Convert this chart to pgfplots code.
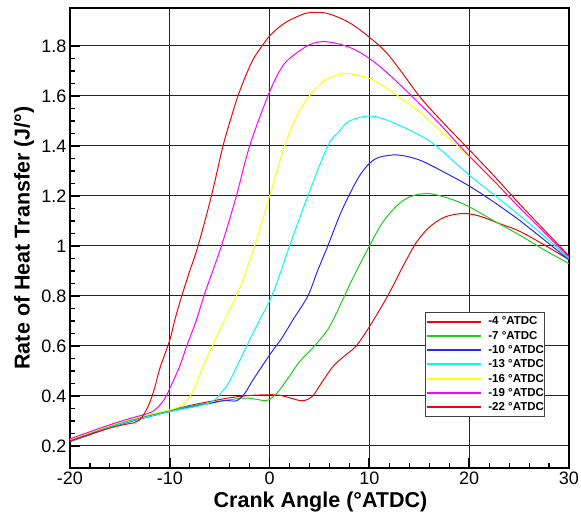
\documentclass[border=0pt]{standalone}
\usepackage{fontspec}
\setmainfont{Liberation Sans}
\usepackage{pgfplots}
\pgfplotsset{compat=1.18}

\definecolor{cRed}{RGB}{230,10,10}
\definecolor{cGreen}{RGB}{30,205,30}
\definecolor{cBlue}{RGB}{40,40,255}
\definecolor{cCyan}{RGB}{0,250,250}
\definecolor{cYellow}{RGB}{255,255,0}
\definecolor{cMagenta}{RGB}{255,0,255}

\begin{document}
\begin{tikzpicture}
\begin{axis}[
  scale only axis,
  width=499pt, height=460pt,
  xmin=-20, xmax=30,
  ymin=0.112, ymax=1.952,
  xtick={-20,-10,...,30},
  ytick={0.2,0.4,...,1.8},
  minor x tick num=4,
  minor y tick num=3,
  xtick pos=bottom, ytick pos=left,
  tick align=inside,
  major tick length=10pt,
  minor tick length=5pt,
  every major tick/.append style={line width=1.8pt, black},
  every minor tick/.append style={line width=1.1pt, black},
  grid=major,
  major grid style={line width=1pt, black!85},
  axis line style={line width=2.6pt, black},
  /pgf/number format/assume math mode=true,
  tick label style={font=\fontsize{18}{18}\selectfont},
  xlabel={Crank Angle (°ATDC)},
  ylabel={Rate of Heat Transfer (J/°)},
  every axis x label/.style={at={(axis description cs:0.502,-0.074)}, anchor=center,
    font=\bfseries\fontsize{21.5}{22}\selectfont},
  every axis y label/.style={at={(axis description cs:-0.092,0.5)}, anchor=center, rotate=90,
    font=\bfseries\fontsize{21.5}{22}\selectfont},
  legend cell align=left,
  legend image code/.code={\draw[#1, line width=2pt] (0pt,0pt) -- (54pt,0pt); \path (60pt,0pt);},
  legend style={
    at={(axis cs:15.6,0.736)}, anchor=north west,
    draw=black!75, line width=1.2pt, fill=white,
    font=\bfseries\fontsize{11.5}{12}\selectfont,
    inner xsep=0pt, inner ysep=2pt,
    row sep=0.3pt,
    nodes={inner sep=1pt, text height=9.3pt, text depth=2.7pt},
  },
  every axis plot/.append style={line width=1pt, smooth, tension=0.55},
]

% -4 ATDC
\addplot[color=cRed] coordinates {
(-20,0.221)(-18,0.249)(-16,0.277)(-14,0.301)(-12,0.322)(-10,0.342)(-8,0.362)
(-6,0.378)(-4,0.393)(-2,0.402)(0,0.405)(1,0.403)(2,0.393)(3,0.382)(3.6,0.383)
(4.33,0.4)(5,0.44)(6.33,0.517)(7.5,0.56)(8.67,0.6)(10,0.677)(11.83,0.8)
(13.17,0.904)(14.33,0.99)(15,1.03)(16,1.075)(17.5,1.115)(19.33,1.13)(21,1.12)
(23,1.09)(25,1.06)(27.5,1.005)(30,0.945)};
\addlegendentry{-4 °ATDC}

% -7 ATDC
\addplot[color=cGreen] coordinates {
(-20,0.223)(-18,0.251)(-16,0.279)(-14,0.303)(-12,0.324)(-10,0.343)(-8,0.359)
(-6,0.373)(-4,0.385)(-2.5,0.392)(-1.2,0.386)(-0.33,0.381)(0.3,0.395)(1,0.424)
(2,0.48)(3,0.537)(4.5,0.6)(6,0.677)(7.5,0.8)(8.33,0.87)(10,1.0)(11.5,1.104)
(13.5,1.185)(15.67,1.21)(18,1.19)(20,1.157)(22.5,1.1)(25,1.045)(27.5,0.985)(30,0.93)};
\addlegendentry{-7 °ATDC}

% -10 ATDC
\addplot[color=cBlue] coordinates {
(-20,0.217)(-18,0.245)(-16,0.273)(-14,0.297)(-12,0.318)(-10,0.338)(-8,0.355)
(-6,0.37)(-4.5,0.382)(-3.33,0.381)(-2.5,0.41)(-1.67,0.464)(0,0.564)(1.2,0.63)
(2.33,0.704)(3.83,0.8)(4.8,0.9)(5.83,1.0)(7,1.12)(7.93,1.2)(9,1.28)(10,1.33)
(11,1.355)(12.83,1.364)(15,1.344)(17.5,1.295)(20,1.24)(22.5,1.175)(25,1.104)
(27.5,1.025)(30,0.945)};
\addlegendentry{-10 °ATDC}

% -13 ATDC
\addplot[color=cCyan] coordinates {
(-20,0.219)(-18,0.247)(-16,0.275)(-14,0.299)(-12,0.319)(-10,0.338)(-8,0.353)
(-6.5,0.366)(-5.6,0.382)(-4.8,0.415)(-4,0.46)(-2.33,0.597)(-1,0.704)(0,0.78)(0.83,0.864)
(2,1.0)(3.83,1.2)(5.83,1.4)(7,1.46)(8,1.5)(10,1.52)(12,1.5)(15,1.444)(16.7,1.4)
(20,1.284)(22.5,1.205)(25,1.124)(27.5,1.04)(30,0.95)};
\addlegendentry{-13 °ATDC}

% -16 ATDC
\addplot[color=cYellow] coordinates {
(-20,0.226)(-18,0.254)(-16,0.282)(-14,0.306)(-12,0.327)(-10,0.345)(-8.9,0.36)
(-8.2,0.385)(-7.5,0.435)(-6.67,0.517)(-5,0.664)(-3.33,0.8)(-2.67,0.864)(-1.5,1.0)(-1,1.064)
(0,1.2)(1.5,1.4)(2.5,1.5)(3.67,1.584)(5,1.645)(6,1.672)(7.67,1.69)(10,1.67)
(12,1.625)(15,1.537)(17,1.465)(20,1.358)(22.5,1.258)(25,1.158)(27.5,1.055)(30,0.955)};
\addlegendentry{-16 °ATDC}

% -19 ATDC
\addplot[color=cMagenta] coordinates {
(-20,0.229)(-18,0.257)(-16,0.285)(-14,0.31)(-12,0.333)(-11.2,0.355)(-10.5,0.39)(-10,0.43)
(-9,0.52)(-8.33,0.597)(-7.33,0.704)(-6.5,0.81)(-4.83,1.0)(-3.33,1.2)(-2,1.4)
(-0.17,1.6)(1,1.7)(2,1.75)(4,1.805)(5.67,1.817)(8,1.795)(10,1.75)(12,1.685)
(15,1.57)(17,1.49)(20,1.36)(22.5,1.26)(25,1.155)(27.5,1.055)(30,0.955)};
\addlegendentry{-19 °ATDC}

% -22 ATDC
\addplot[color=cRed] coordinates {
(-20,0.22)(-18,0.247)(-16,0.272)(-14.5,0.286)(-13.5,0.294)(-13,0.305)(-12.5,0.333)
(-12,0.375)(-11.5,0.435)(-11,0.51)(-10,0.624)(-9.5,0.704)(-8.8,0.8)(-8,0.9)
(-7.17,1.0)(-5.83,1.2)(-4.67,1.4)(-3.8,1.52)(-3.17,1.6)(-2.4,1.68)(-1.6,1.75)(-0.67,1.805)(0,1.84)(1,1.877)
(2,1.903)(3.5,1.929)(4.7,1.935)(6,1.928)(8,1.893)(10,1.835)(12,1.76)(15,1.6)
(17,1.51)(20,1.385)(22.5,1.28)(25,1.17)(27.5,1.065)(30,0.96)};
\addlegendentry{-22 °ATDC}

\coordinate (origin) at (rel axis cs:0,0);
\end{axis}
\pgfresetboundingbox
\path[use as bounding box] (origin) ++(-70pt,-48pt) rectangle ++(581pt,516pt);
\end{tikzpicture}
\end{document}
